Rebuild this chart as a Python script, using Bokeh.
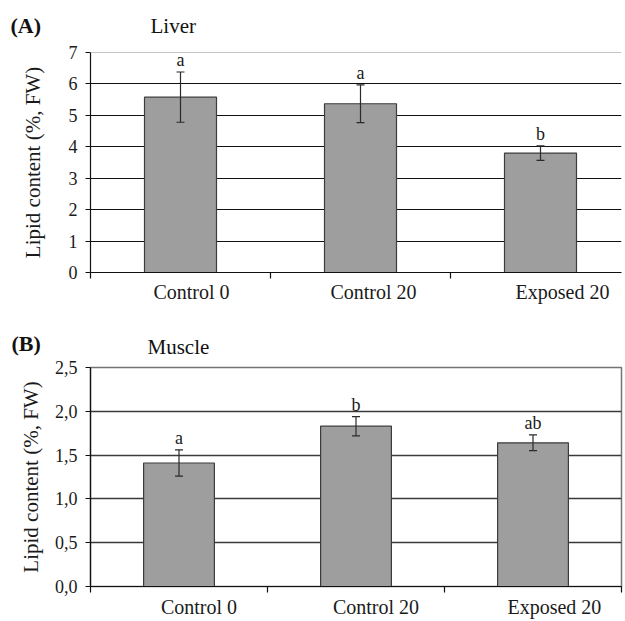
from bokeh.plotting import figure
from bokeh.models import (Range1d, FixedTicker, Whisker, ColumnDataSource,
                          Span, TeeHead, LabelSet)
from bokeh.layouts import column
from bokeh.core.properties import value
from bokeh.embed import file_html
from bokeh.resources import INLINE

# ---------------- data ----------------
categories = ["Control 0", "Control 20", "Exposed 20"]

liver_mean = [5.58, 5.37, 3.80]
liver_err = [0.80, 0.60, 0.23]
liver_letters = ["a", "a", "b"]
liver_yticks = [0, 1, 2, 3, 4, 5, 6, 7]
liver_ytick_labels = ["0", "1", "2", "3", "4", "5", "6", "7"]

muscle_mean = [1.41, 1.83, 1.64]
muscle_err = [0.15, 0.11, 0.09]
muscle_letters = ["a", "b", "ab"]
muscle_yticks = [0.0, 0.5, 1.0, 1.5, 2.0, 2.5]
muscle_ytick_labels = ["0,0", "0,5", "1,0", "1,5", "2,0", "2,5"]

FONT = "Liberation Serif"
W = 625
BL, BR = 90, 4          # left / right borders (shared by both panels)
FRAME_H = 220


def make_panel(tag, title, means, errs, letters, yticks, ytick_labels,
               height, border_top, border_bottom, x_end, label_shifts,
               label_standoff, grid_color, grid_width, border_color,
               draw_outline, ylabel_standoff, tag_px, title_px):
    n = len(categories)
    xs = [i + 0.5 for i in range(n)]
    src = ColumnDataSource(dict(
        x=xs, top=means,
        upper=[m + e for m, e in zip(means, errs)],
        lower=[m - e for m, e in zip(means, errs)],
        letter=letters,
    ))
    p = figure(width=W, height=height, output_backend="svg",
               toolbar_location=None, title=None,
               x_range=Range1d(0, x_end),
               y_range=Range1d(yticks[0], yticks[-1]),
               min_border_top=border_top, min_border_bottom=border_bottom,
               min_border_left=BL, min_border_right=BR)
    p.background_fill_color = "white"
    p.border_fill_color = "white"
    if draw_outline:
        p.outline_line_color = border_color
        p.outline_line_width = 1.5
    else:
        p.outline_line_color = None
        p.add_layout(Span(location=yticks[-1], dimension="width",
                          line_color=border_color, line_width=1.2))

    # grid
    p.xgrid.visible = False
    p.ygrid.ticker = FixedTicker(ticks=yticks[1:-1])
    p.ygrid.grid_line_color = grid_color
    p.ygrid.grid_line_width = grid_width

    # bars
    p.vbar(x="x", top="top", width=0.4, source=src,
           fill_color="#9d9e9d", line_color="#3c3c3c", line_width=1.2)

    # error bars
    w = Whisker(source=src, base="x", upper="upper", lower="lower",
                line_color="#2a2a2a", line_width=1.2, level="annotation",
                upper_head=TeeHead(size=8, line_color="#2a2a2a", line_width=1.2),
                lower_head=TeeHead(size=8, line_color="#2a2a2a", line_width=1.2))
    p.add_layout(w)

    # significance letters
    p.add_layout(LabelSet(x="x", y="upper", text="letter", source=src,
                          text_align="center", text_baseline="alphabetic",
                          y_offset=6, text_font=FONT, text_font_size="18px",
                          text_color="#1a1a1a"))

    # panel tag and title, placed above the frame (not clipped: overlay level)
    frame_w = W - BL - BR
    px_per_x = frame_w / x_end
    px_per_y = FRAME_H / (yticks[-1] - yticks[0])
    y_top = yticks[-1]
    for txt, (px, above), style, size in (
            (tag, tag_px, "bold", "22px"), (title, title_px, "normal", "21px")):
        r = p.text(x=[(px - BL) / px_per_x], y=[y_top + above / px_per_y],
                   text=[txt], text_font=value(FONT), text_font_size=size,
                   text_font_style=style, text_color="#111111",
                   text_align="left", text_baseline="alphabetic")
        r.level = "overlay"

    # x axis: category labels between boundary ticks
    label_pos = [x + s for x, s in zip(xs, label_shifts)]
    xa = p.xaxis[0]
    xa.ticker = FixedTicker(ticks=label_pos, minor_ticks=list(range(n + 1)))
    xa.major_label_overrides = {lp: c for lp, c in zip(label_pos, categories)}
    xa.major_tick_line_color = None
    xa.major_tick_out = 0
    xa.major_tick_in = 0
    xa.minor_tick_out = 6
    xa.minor_tick_in = 0
    xa.minor_tick_line_color = "#111111"
    xa.minor_tick_line_width = 1.2
    xa.axis_line_color = "#111111"
    xa.axis_line_width = 1.2
    xa.major_label_standoff = label_standoff
    xa.major_label_text_font = FONT
    xa.major_label_text_font_size = "20px"
    xa.major_label_text_color = "#1a1a1a"

    # y axis
    ya = p.yaxis[0]
    ya.ticker = FixedTicker(ticks=yticks, minor_ticks=[])
    ya.major_label_overrides = {t: l for t, l in zip(yticks, ytick_labels)}
    ya.major_tick_out = 5
    ya.major_tick_in = 0
    ya.major_tick_line_color = "#111111"
    ya.major_tick_line_width = 1.2
    ya.minor_tick_line_color = None
    ya.axis_line_color = "#111111"
    ya.axis_line_width = 1.2
    ya.major_label_standoff = 8
    ya.major_label_text_font = FONT
    ya.major_label_text_font_size = "18px"
    ya.major_label_text_color = "#1a1a1a"
    ya.axis_label = "Lipid content (%, FW)"
    ya.axis_label_text_font = FONT
    ya.axis_label_text_font_size = "21px"
    ya.axis_label_text_font_style = "normal"
    ya.axis_label_text_color = "#1a1a1a"
    ya.axis_label_standoff = ylabel_standoff
    return p


# tag/title positions: (left edge px in canvas, px above frame top)
pA = make_panel("(A)", "Liver", liver_mean, liver_err, liver_letters,
                liver_yticks, liver_ytick_labels,
                height=312, border_top=52, border_bottom=40, x_end=2.95,
                label_shifts=[0.061, 0.072, 0.122], label_standoff=2,
                grid_color="#111111", grid_width=1.2,
                border_color="#8a8a8a", draw_outline=False,
                ylabel_standoff=21, tag_px=(10, 27), title_px=(150, 27))
pB = make_panel("(B)", "Muscle", muscle_mean, muscle_err, muscle_letters,
                muscle_yticks, muscle_ytick_labels,
                height=308, border_top=55, border_bottom=33, x_end=3.0,
                label_shifts=[0.113, 0.113, 0.121], label_standoff=3,
                grid_color="#3a3a3a", grid_width=1.6,
                border_color="#747474", draw_outline=True,
                ylabel_standoff=9, tag_px=(11, 24), title_px=(147, 21))

layout = column(pA, pB)
open("out.html", "w").write(file_html(layout, INLINE))
